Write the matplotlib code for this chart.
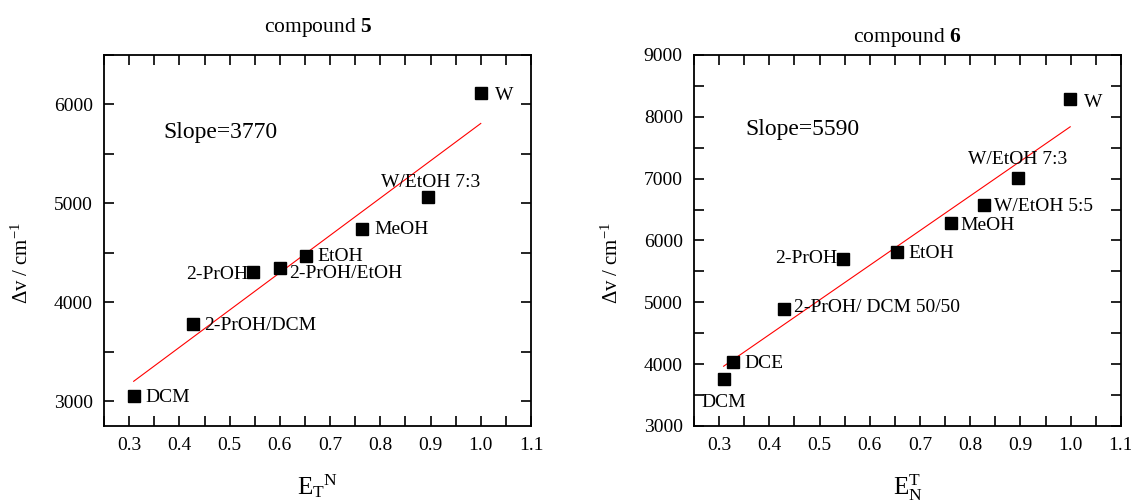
import numpy as np
import matplotlib
matplotlib.use("Agg")
import matplotlib.pyplot as plt
from matplotlib.ticker import MultipleLocator, FormatStrFormatter

plt.rcParams['font.family'] = ['Liberation Serif', 'DejaVu Serif']
plt.rcParams['mathtext.fontset'] = 'custom'
plt.rcParams['mathtext.rm'] = 'Liberation Serif'
plt.rcParams['mathtext.it'] = 'Liberation Serif:italic'
plt.rcParams['mathtext.bf'] = 'Liberation Serif:bold'

# compound 5
solv5 = ["DCM", "2-PrOH/DCM", "2-PrOH", "2-PrOH/EtOH", "EtOH", "MeOH", "W/EtOH 7:3", "W"]
et5 = [0.309, 0.4275, 0.546, 0.600, 0.653, 0.763, 0.895, 1.0]
dv5 = [3054, 3780, 4311, 4345, 4466, 4740, 5068, 6115]
# label offsets in points and alignment
off5 = [(8.5, -1), (8, -1), (-3, -2), (7, -4), (8, 0), (9, 0), (2, 10), (10, -2)]
ha5 = ["left", "left", "right", "left", "left", "left", "center", "left"]

# compound 6
solv6 = ["DCM", "DCE", "2-PrOH/ DCM 50/50", "2-PrOH", "EtOH", "MeOH", "W/EtOH 5:5", "W/EtOH 7:3", "W"]
et6 = [0.309, 0.328, 0.429, 0.547, 0.654, 0.7615, 0.828, 0.895, 0.999]
dv6 = [3768, 4027, 4897, 5703, 5816, 6281, 6578, 7011, 8281]
off6 = [(0, -17), (8, -1), (7.5, 1), (-4, 0), (8, -1.5), (7, -2), (7, -1), (0, 13), (10, -2)]
ha6 = ["center", "left", "left", "right", "left", "left", "left", "center", "left"]

fig = plt.figure(figsize=(11.31, 5.03), dpi=100)
ax1 = fig.add_axes([0.0920, 0.1531, 0.3775, 0.7376])
ax2 = fig.add_axes([0.6136, 0.1531, 0.3775, 0.7376])


def panel(ax, x, y, names, offs, has, ylim, title, tpad, xlab, slope, spos):
    x = np.array(x)
    y = np.array(y)
    k, b = np.polyfit(x, y, 1)
    xf = np.array([x.min(), x.max()])
    ax.plot(xf, k * xf + b, color='red', lw=0.8, zorder=2)
    ax.plot(x, y, 's', color='black', ms=9, zorder=3)
    for xi, yi, n, o, h in zip(x, y, names, offs, has):
        ax.annotate(n, (xi, yi), xytext=o, textcoords='offset points',
                    ha=h, va='center', fontsize=14)
    ax.text(spos[0], spos[1], slope, transform=ax.transAxes,
            ha='left', va='center', fontsize=17)
    ax.set_xlim(0.25, 1.1)
    ax.set_ylim(*ylim)
    ax.xaxis.set_major_locator(MultipleLocator(0.1))
    ax.xaxis.set_minor_locator(MultipleLocator(0.05))
    ax.xaxis.set_major_formatter(FormatStrFormatter('%.1f'))
    ax.yaxis.set_major_locator(MultipleLocator(1000))
    ax.yaxis.set_minor_locator(MultipleLocator(500))
    ax.tick_params(which='both', direction='in', top=True, right=True,
                   length=7, width=1.2, labelsize=14, pad=8)
    for s in ax.spines.values():
        s.set_linewidth(1.3)
    ax.set_title(title, fontsize=15.5, pad=tpad)
    ax.set_ylabel(r"$\mathregular{\Delta v\ /\ cm^{-1}}$", fontsize=15)
    ax.yaxis.set_label_coords(-0.166, 0.44)
    ax.set_xlabel(xlab, fontsize=18)
    ax.xaxis.set_label_coords(0.5, -0.125)


panel(ax1, et5, dv5, solv5, off5, ha5, (2750, 6500), r"compound $\mathbf{5}$", 16.5,
      r"$\mathregular{E_T{}^N}$", "Slope=3770", (0.14, 0.792))
panel(ax2, et6, dv6, solv6, off6, ha6, (3000, 9000), r"compound $\mathbf{6}$", 9,
      r"$\mathregular{E_N^T}$", "Slope=5590", (0.121, 0.798))

fig.savefig("out.png", dpi=100)
